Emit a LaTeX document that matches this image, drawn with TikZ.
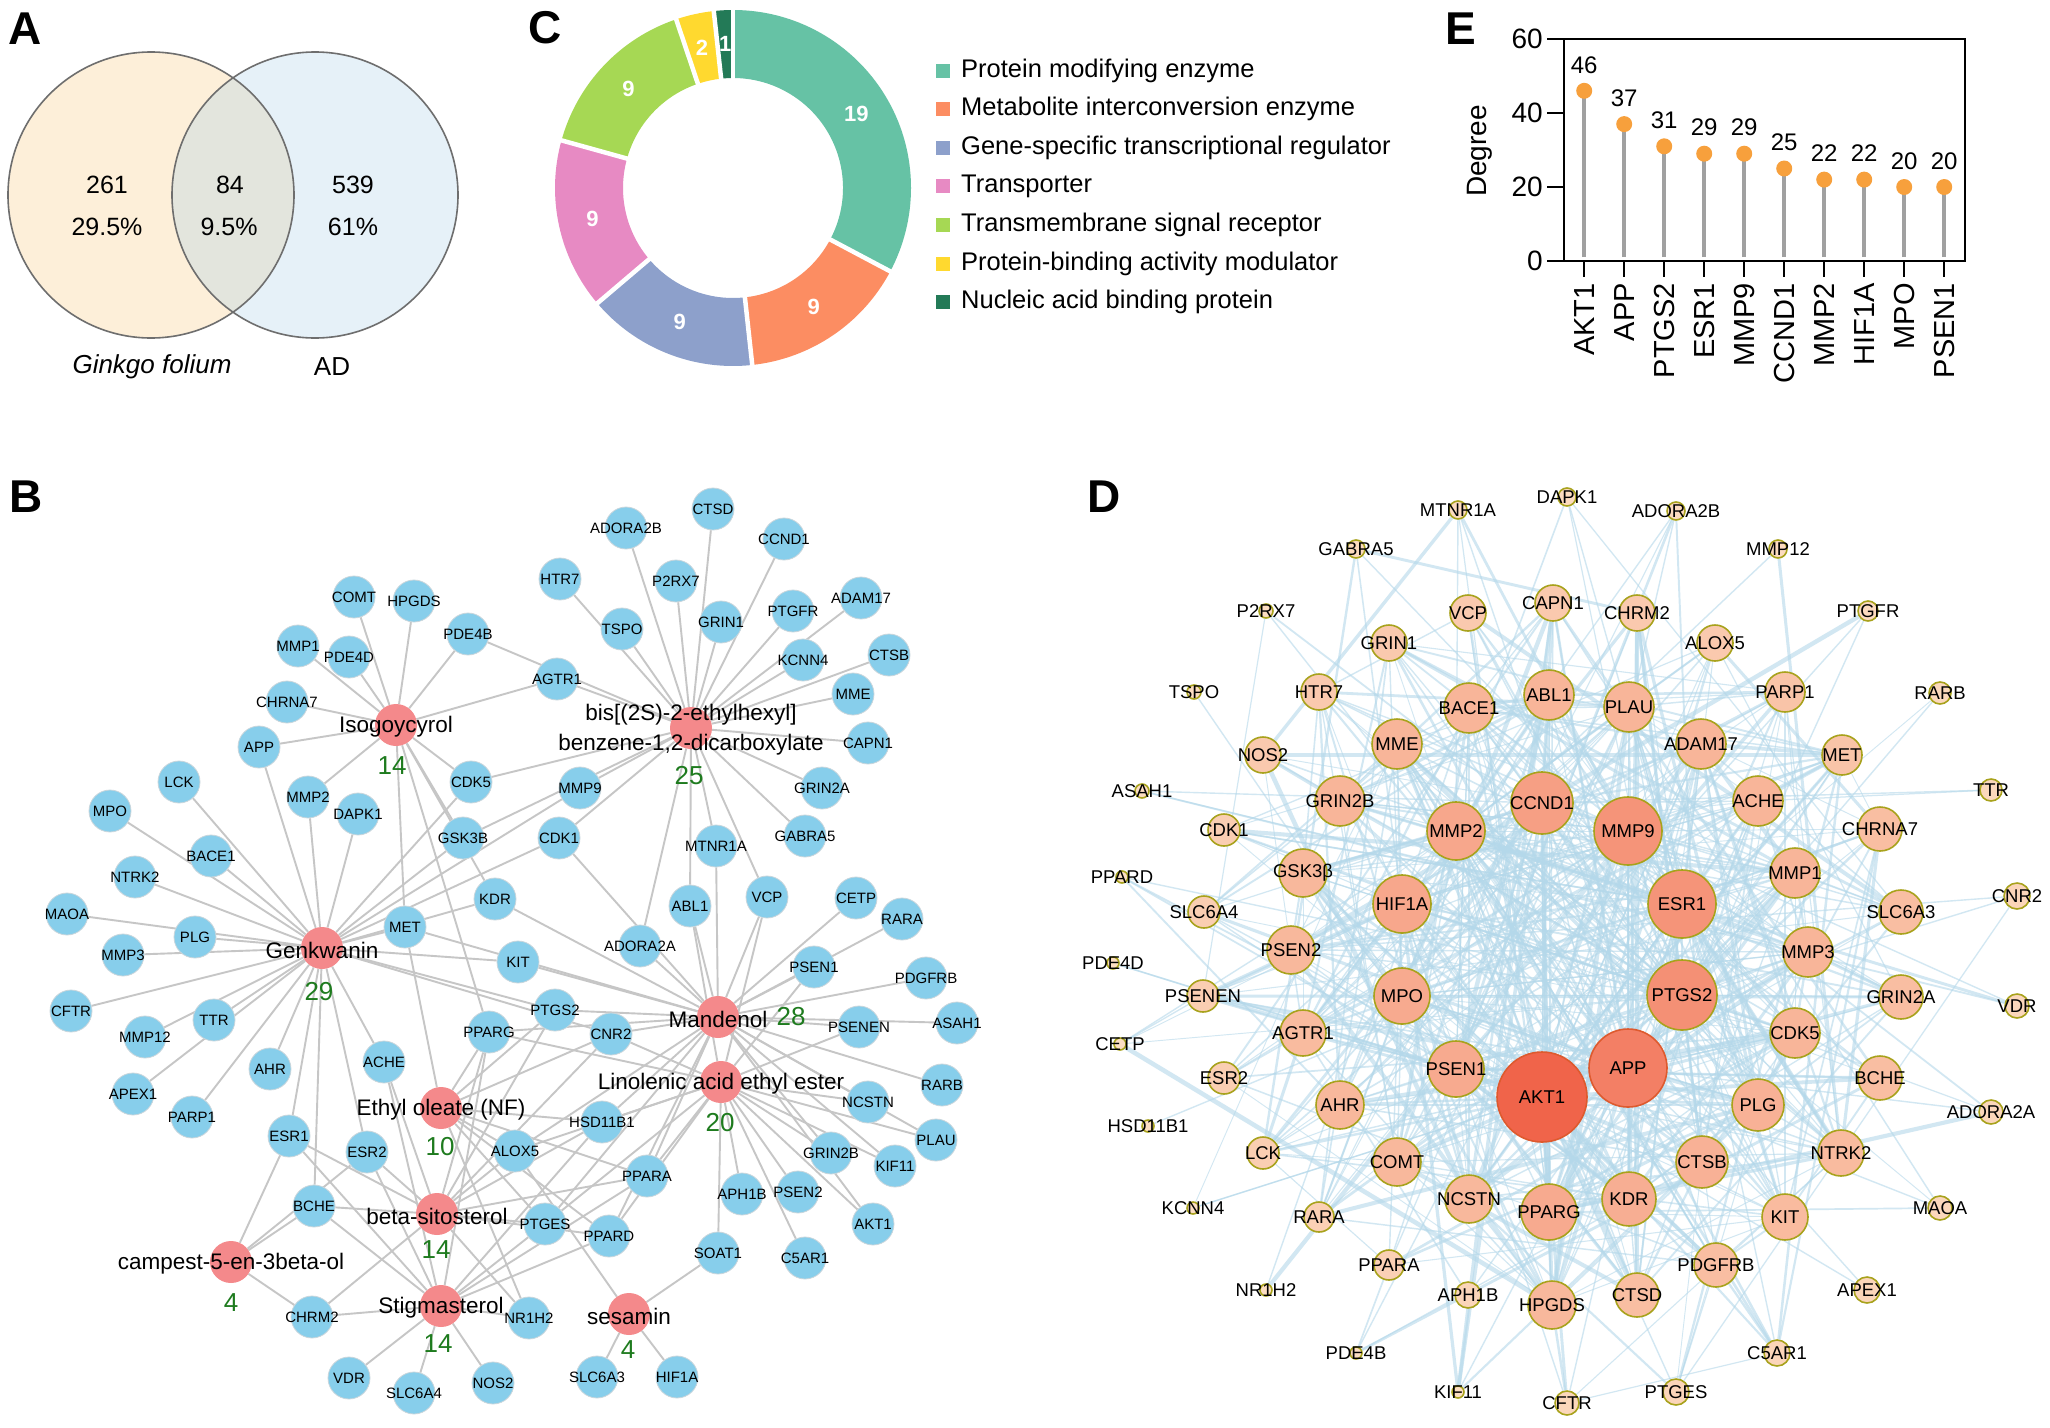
\documentclass[tikz,border=0pt]{standalone}
\usepackage{fontspec}
\setmainfont{Liberation Sans}
\usetikzlibrary{positioning}
\pgfdeclarelayer{links}
\pgfdeclarelayer{paper}
\pgfsetlayers{paper,links,main}

\definecolor{clrginkgo}{HTML}{FDEFD9}
\definecolor{clrad}{HTML}{E6F1F8}
\definecolor{clrboth}{HTML}{E3E5DD}
\definecolor{clrvenn}{HTML}{6E6E6E}
\definecolor{clrpme}{HTML}{66C2A5}
\definecolor{clrmie}{HTML}{FC8D62}
\definecolor{clrgtr}{HTML}{8DA0CB}
\definecolor{clrtrn}{HTML}{E78AC3}
\definecolor{clrtsr}{HTML}{A6D854}
\definecolor{clrpbm}{HTML}{FFD92F}
\definecolor{clrnab}{HTML}{237A57}
\definecolor{clrgene}{HTML}{87CEEB}
\definecolor{clrgenerim}{HTML}{C9D6DC}
\definecolor{clrherb}{HTML}{F4898B}
\definecolor{clrcount}{HTML}{1E7B1E}
\definecolor{clrlinkb}{HTML}{C6C6C6}
\definecolor{clrcold}{HTML}{FCDEC2}
\definecolor{clrhot}{HTML}{F0644A}
\definecolor{clrrim}{HTML}{A8A21C}
\definecolor{clrrimhot}{HTML}{DE5A2E}
\definecolor{clrlinkd}{HTML}{B4D8EA}
\definecolor{clrstem}{HTML}{A0A0A0}
\definecolor{clrdot}{HTML}{F7A03C}

\newcommand\pxfont[1]{\fontsize{#1}{#1}\selectfont}

\tikzset{
    PanelTag/.style={font=\pxfont{46}\bfseries,inner sep=0},
    VennText/.style={font=\pxfont{25},inner sep=0},
    SliceNum/.style={font=\pxfont{22}\bfseries,text=white,inner sep=0},
    LegendBox/.style={minimum size=14,inner sep=0},
    LegendText/.style={font=\pxfont{25.5},inner sep=0,anchor=west},
    AxisNum/.style={font=\pxfont{28},inner sep=0},
    ValText/.style={font=\pxfont{24},inner sep=0},
    CatText/.style={font=\pxfont{29},inner sep=0,rotate=90,anchor=east},
    LolliDot/.style={circle,fill=clrdot,minimum size=16,inner sep=0},
    LolliStem/.style={draw=clrstem,line width=4.5},
    GeneNode/.style={circle,fill=clrgene,draw=clrgenerim,line width=0.8,minimum size=42,inner sep=0},
    GeneName/.style={font=\pxfont{15},inner sep=0},
    HerbNode/.style={circle,fill=clrherb,minimum size=42,inner sep=0},
    HerbName/.style={font=\fontsize{22.5}{30}\selectfont,inner sep=0,align=center},
    HerbCount/.style={font=\pxfont{26},text=clrcount,inner sep=0},
    LinkB/.style={draw=clrlinkb,line width=1.9},
    PpiNode/.style={circle,minimum size=2*#1,inner sep=0,line width=1.6,draw=clrrim},
    PpiName/.style={font=\pxfont{18.5},inner sep=0},
    LinkD/.style={draw=clrlinkd,opacity=0.6}
}

\begin{document}
\begin{tikzpicture}[x=1pt,y=-1pt]
\useasboundingbox (0,0) rectangle (2050,1427);
\begin{pgfonlayer}{paper}
    \fill[white] (0,0) rectangle (2050,1427);
\end{pgfonlayer}

%%% A: venn
\node[PanelTag] (tagA) at (25,29) {A};
\fill[clrginkgo] (151,195) circle[radius=143];
\fill[clrad] (315,195) circle[radius=143];
\begin{scope}
    \clip (151,195) circle[radius=143];
    \fill[clrboth] (315,195) circle[radius=143];
\end{scope}
\draw[clrvenn,line width=1.6] (151,195) circle[radius=143] (315,195) circle[radius=143];
\node[VennText] (nGinkgo) at (107,185) {261};
\node[VennText] (pGinkgo) at (107,227) {29.5\%};
\node[VennText] (nBoth) at (230,185) {84};
\node[VennText] (pBoth) at (229,227) {9.5\%};
\node[VennText] (nAD) at (353,185) {539};
\node[VennText] (pAD) at (353,227) {61\%};
\node[VennText,font=\pxfont{26}\itshape] (lGinkgo) at (152,367) {Ginkgo folium};
\node[VennText,font=\pxfont{26}] (lAD) at (332,367) {AD};

%%% C: donut
\node[PanelTag] (tagC) at (545,28) {C};
\def\cx{733}\def\cy{188}
\def\ro{178}\def\ri{110}
\def\slice{6.2069}% 360/58
\foreach \s/\e/\col in {0/19/clrpme,19/28/clrmie,28/37/clrgtr,37/46/clrtrn,46/55/clrtsr,55/57/clrpbm,57/58/clrnab}{
    \pgfmathsetmacro\aa{\s*\slice-90}
    \pgfmathsetmacro\ab{\e*\slice-90}
    \fill[\col] ({\cx+\ro*cos(\aa)},{\cy+\ro*sin(\aa)}) arc[start angle=\aa,end angle=\ab,radius=\ro]
        -- ({\cx+\ri*cos(\ab)},{\cy+\ri*sin(\ab)}) arc[start angle=\ab,end angle=\aa,radius=\ri] -- cycle;
}
\foreach \s in {0,19,28,37,46,55,57}{
    \pgfmathsetmacro\aa{\s*\slice-90}
    \draw[white,line width=4.5] ({\cx+(\ri-3)*cos(\aa)},{\cy+(\ri-3)*sin(\aa)}) -- ({\cx+(\ro+3)*cos(\aa)},{\cy+(\ro+3)*sin(\aa)});
}
\foreach \m/\num [count=\k] in {9.5/19,23.5/9,32.5/9,41.5/9,50.5/9,56/2,57.5/1}{
    \pgfmathsetmacro\am{\m*\slice-90}
    \node[SliceNum] (cs\k) at ({\cx+144*cos(\am)},{\cy+144*sin(\am)}) {\num};
}
\foreach \txt/\col [count=\k from 0] in {Protein modifying enzyme/clrpme,
    Metabolite interconversion enzyme/clrmie,Gene-specific transcriptional regulator/clrgtr,
    Transporter/clrtrn,Transmembrane signal receptor/clrtsr,
    Protein-binding activity modulator/clrpbm,Nucleic acid binding protein/clrnab}{
    \node[LegendBox,fill=\col] (lb\k) at (943,70.6+38.6*\k) {};
    \node[LegendText] (lt\k) at (961,70.6+38.6*\k) {\txt};
}

%%% E: lollipop
\node[PanelTag] (tagE) at (1461,29) {E};
\draw[line width=2.4] (1564,39) rectangle (1965,261);
\foreach \v in {0,20,40,60}{
    \draw[line width=2.4] (1547,261-3.7*\v) -- (1564,261-3.7*\v);
    \node[AxisNum,anchor=east] (ey\v) at (1543,261-3.7*\v) {\v};
}
\node[AxisNum,rotate=90] (eDeg) at (1480,151) {Degree};
\foreach \g/\v [count=\k from 0] in {AKT1/46,APP/37,PTGS2/31,ESR1/29,MMP9/29,CCND1/25,MMP2/22,HIF1A/22,MPO/20,PSEN1/20}{
    \pgfmathsetmacro\ex{1584.2+40*\k}
    \pgfmathsetmacro\ey{261-3.7*\v}
    \coordinate (eb\k) at (\ex,257);
    \coordinate (et\k) at (\ex,\ey);
    \draw[LolliStem] (eb\k) -- (et\k);
    \node[LolliDot] (e\k) at (et\k) {};
    \node[ValText] (ev\k) at (\ex,\ey-26) {\v};
    \draw[line width=2.4] (\ex,261) -- (\ex,277);
    \node[CatText] (ec\k) at (\ex,283) {\g};
}

%%% B: compound-target network
\node[PanelTag] (tagB) at (26,497) {B};
\foreach \g/\x/\y in {COMT/354/597,HPGDS/414/601,PDE4B/468/634,MMP1/298/646,PDE4D/349/657,
    CHRNA7/287/702,APP/259/747,LCK/179/782,MMP2/308/797,DAPK1/358/814,CDK5/471/782,MPO/110/811,
    GSK3B/463/838,BACE1/211/856,NTRK2/135/877,KDR/495/899,MAOA/67/914,MET/405/927,PLG/195/937,
    MMP3/123/955,CFTR/71/1011,TTR/214/1020,MMP12/145/1037,AHR/270/1069,ACHE/384/1062,
    PPARG/489/1032,APEX1/133/1094,PARP1/192/1117,ESR1/289/1136,ESR2/367/1152,ALOX5/515/1151,
    BCHE/314/1206,CHRM2/312/1317,VDR/349/1378,SLC6A4/414/1393,NOS2/493/1383,NR1H2/529/1318,
    CTSD/713/509,ADORA2B/626/528,CCND1/784/539,HTR7/560/579,P2RX7/676/581,GRIN1/721/622,
    PTGFR/793/611,ADAM17/861/598,TSPO/622/629,KCNN4/803/660,CTSB/889/655,AGTR1/557/679,
    MME/853/694,CAPN1/868/743,MMP9/580/788,GRIN2A/822/788,CDK1/559/838,GABRA5/805/836,
    MTNR1A/716/846,ABL1/690/906,VCP/767/897,CETP/856/898,RARA/902/919,ADORA2A/640/946,
    KIT/518/962,PSEN1/814/967,PDGFRB/926/978,PSENEN/859/1027,ASAH1/957/1023,PTGS2/555/1010,
    CNR2/611/1034,RARB/942/1085,NCSTN/868/1102,HSD11B1/602/1122,PLAU/936/1140,GRIN2B/831/1153,
    KIF11/895/1166,PPARA/647/1176,APH1B/742/1194,PSEN2/798/1192,AKT1/873/1224,PTGES/545/1224,
    PPARD/609/1236,SOAT1/718/1253,C5AR1/805/1258,SLC6A3/597/1377,HIF1A/677/1377}{
    \node[GeneNode] (t\g) at (\x,\y) {};
    \node[GeneName] (tn\g) at (\x,\y) {\g};
}
\foreach \c/\x/\y/\nm/\cnt/\nx/\ny in {
    Iso/396/725/Isogoycyrol/14/392/766,
    Bis/691/728/{bis[(2S)-2-ethylhexyl]\\benzene-1,2-dicarboxylate}/25/689/776,
    Gen/322/948/Genkwanin/29/319/992,
    Man/718/1017/Mandenol/28/791/1017,
    Lin/721/1082/Linolenic acid ethyl ester/20/720/1123,
    Eth/441/1108/Ethyl oleate (NF)/10/440/1147,
    Beta/437/1214/beta-sitosterol/14/436/1250,
    Stig/441/1306/Stigmasterol/14/438/1344,
    Camp/231/1262/campest-5-en-3beta-ol/4/231/1303,
    Ses/629/1314/sesamin/4/628/1350}{
    \node[HerbNode] (c\c) at (\x,\y) {};
    \node[HerbName] (cn\c) at (\x,\y+2) {\nm};
    \node[HerbCount] (cc\c) at (\nx,\ny) {\cnt};
}
\begin{pgfonlayer}{links}
\foreach \c/\ts in {
    Iso/{COMT,HPGDS,PDE4B,MMP1,PDE4D,CHRNA7,APP,MMP2,CDK5,GSK3B,KDR,MET,AGTR1,PPARG},
    Bis/{CTSD,ADORA2B,CCND1,HTR7,P2RX7,GRIN1,PTGFR,ADAM17,TSPO,KCNN4,CTSB,AGTR1,MME,CAPN1,
         MMP9,GRIN2A,CDK1,GABRA5,MTNR1A,ABL1,VCP,ADORA2A,PDE4B,CDK5,GSK3B},
    Gen/{LCK,MPO,BACE1,NTRK2,MAOA,PLG,MMP3,CFTR,TTR,MMP12,AHR,APEX1,PARP1,ESR1,BCHE,ACHE,ESR2,
         APP,MMP2,DAPK1,MET,CDK5,GSK3B,KDR,KIT,PTGS2,CNR2,MMP9,CDK1},
    Man/{ADORA2A,KIT,PTGS2,CNR2,PPARG,PSEN1,PDGFRB,PSENEN,ASAH1,RARB,RARA,CETP,VCP,ABL1,MTNR1A,
         CDK1,KDR,HSD11B1,PPARA,PTGES,PPARD,ALOX5,PLAU,KIF11,AKT1,GRIN2B,NCSTN,MET},
    Lin/{PSEN1,PSENEN,NCSTN,PLAU,GRIN2B,KIF11,AKT1,PSEN2,APH1B,SOAT1,PPARA,PPARD,PTGES,HSD11B1,
         ALOX5,VCP,ABL1,CNR2,PPARG,C5AR1},
    Eth/{PPARG,ALOX5,HSD11B1,PPARA,PPARD,PTGES,MET,CNR2,PTGS2,NR1H2},
    Beta/{ESR1,ESR2,BCHE,ACHE,CHRM2,PPARG,PPARA,PPARD,PTGES,HSD11B1,ALOX5,NR1H2,CNR2,PTGS2},
    Stig/{VDR,SLC6A4,NOS2,NR1H2,CHRM2,BCHE,ESR1,ESR2,ACHE,PPARG,PPARA,PPARD,PTGES,HSD11B1},
    Camp/{ESR1,BCHE,ESR2,CHRM2},
    Ses/{SOAT1,SLC6A3,HIF1A,ALOX5}}{
    \foreach \t in \ts {\draw[LinkB] (c\c) -- (t\t);}
}
\end{pgfonlayer}

%%% D: PPI network
\node[PanelTag] (tagD) at (1104,497) {D};
\def\ppilist{AKT1/1542/1097/45,APP/1628/1068/39,PTGS2/1682/995/35,ESR1/1682/904/34,
    MMP9/1628/831/34,CCND1/1542/803/31,MMP2/1456/831/29,HIF1A/1402/904/29,MPO/1402/996/28,
    PSEN1/1456/1069/28,PPARG/1549/1212/28,KDR/1629/1199/27,CTSB/1702/1162/26,PLG/1758/1105/26,
    MMP1/1795/873/25,MME/1397/744/25,BACE1/1469/708/25,ABL1/1549/695/25,PLAU/1629/707/25,
    ADAM17/1701/744/25,ACHE/1758/801/25,GRIN2B/1340/801/25,CDK5/1795/1033/25,MMP3/1808/952/25,
    GSK3β/1303/873/24,PSEN2/1291/950/24,AHR/1340/1105/24,COMT/1397/1162/24,NCSTN/1469/1199/24,
    HPGDS/1552/1305/24,AGTR1/1303/1033/23,NTRK2/1841/1153/23,KIT/1785/1217/23,CHRNA7/1880/829/22,
    SLC6A3/1901/912/22,GRIN2A/1901/997/22,BCHE/1880/1078/22,PDGFRB/1716/1265/22,CTSD/1637/1295/22,
    MET/1842/755/20,PARP1/1785/692/20,VCP/1468/613/18,CAPN1/1553/603/18,GRIN1/1389/643/18,
    HTR7/1319/692/18,NOS2/1263/755/18,CHRM2/1637/613/18,ALOX5/1715/643/18,CDK1/1224/830/16,
    SLC6A4/1204/912/16,PSENEN/1203/996/16,ESR2/1224/1078/16,LCK/1263/1153/16,RARA/1319/1217/15,
    PPARA/1389/1265/15,APH1B/1468/1295/13,CNR2/2017/896/13,APEX1/1867/1290/13,C5AR1/1777/1353/13,
    PTGES/1676/1392/13,CFTR/1567/1403/12,VDR/2017/1006/12,ADORA2A/1991/1112/12,MAOA/1940/1208/12,
    TTR/1991/790/11,RARB/1940/693/11,PTGFR/1868/611/10,MTNR1A/1458/510/9,DAPK1/1567/497/9,
    ADORA2B/1676/511/9,MMP12/1778/549/9,GABRA5/1356/549/9,P2RX7/1266/611/7,TSPO/1194/692/7,
    ASAH1/1142/791/7,PPARD/1122/877/6,PDE4D/1113/963/6,CETP/1120/1044/6,HSD11B1/1148/1126/6,
    KCNN4/1193/1208/6,NR1H2/1266/1290/6,PDE4B/1356/1353/6,KIF11/1458/1392/6}
\foreach \nm/\x/\y/\r [count=\i] in \ppilist{
    \pgfmathsetmacro\hot{(\r-6)/39}
    \pgfmathsetmacro\pct{100*\hot*sqrt(\hot)}
    \colorlet{ppifill}{clrhot!\pct!clrcold}
    \ifnum\r>36
        \node[PpiNode=\r,fill=ppifill,draw=clrrimhot] (D\i) at (\x,\y) {};
    \else
        \node[PpiNode=\r,fill=ppifill] (D\i) at (\x,\y) {};
    \fi
    \pgfmathsetmacro\w{max(1.6,46*(\r/45)*(\r/45))}
    \expandafter\xdef\csname dw\i\endcsname{\w}
}
\foreach \nm/\x/\y/\r [count=\i] in \ppilist{
    \node[PpiName] (DL\i) at (\x,\y) {\nm};
}
\begin{pgfonlayer}{links}
\pgfmathsetseed{4242}
\foreach \i in {1,...,83}{
    \foreach \j in {1,...,83}{
        \ifnum\j>\i\relax
            \pgfmathsetmacro\pij{\csname dw\i\endcsname*\csname dw\j\endcsname/620}
            \pgfmathsetmacro\roll{rnd}
            \ifdim\roll pt<\pij pt
                \pgfmathsetmacro\lw{0.9+4.2*rnd*rnd}
                \draw[LinkD,line width=\lw] (D\i) -- (D\j);
            \fi
        \fi
    }
}
\foreach \i in {11,...,83}{% every protein keeps one hub partner
    \pgfmathtruncatemacro\h{1+mod(\i*7,10)}
    \draw[LinkD,line width=1.4] (D\i) -- (D\h);
}
\end{pgfonlayer}
\end{tikzpicture}
\end{document}
